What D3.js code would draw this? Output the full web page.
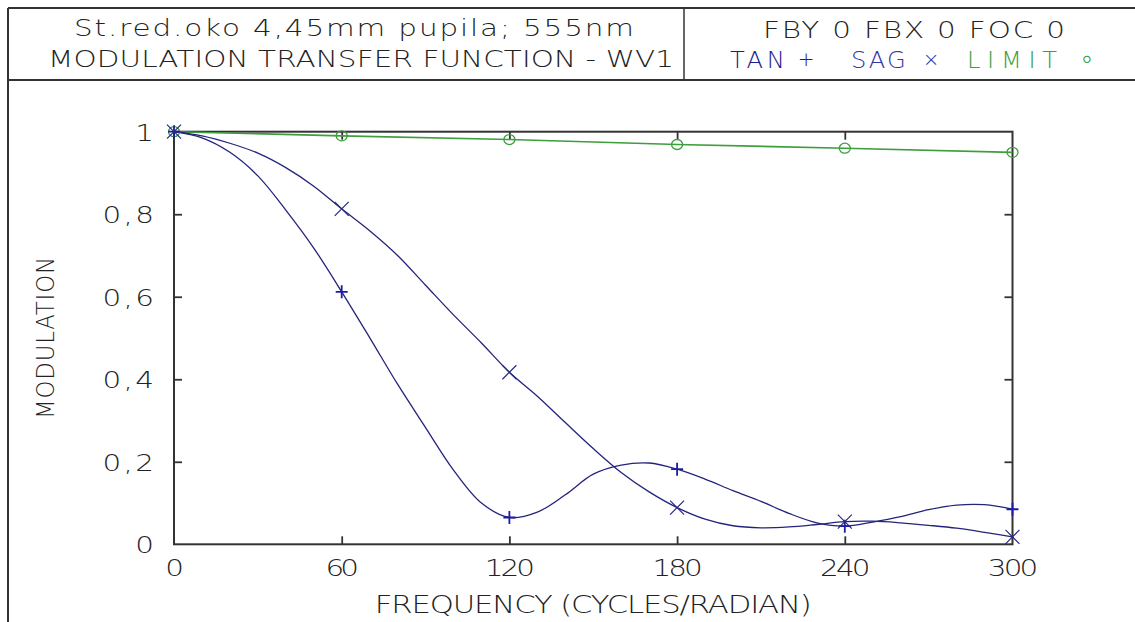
<!DOCTYPE html>
<html>
<head>
<meta charset="utf-8">
<script src="https://cdn.jsdelivr.net/npm/d3@7/dist/d3.min.js"></script>
<style>
  html, body { margin: 0; padding: 0; background: #ffffff; }
  svg { display: block; }
  text { font-family: "DejaVu Sans", "Liberation Sans", sans-serif; font-weight: 200; }
</style>
</head>
<body>
<svg id="chart" width="1135" height="622"></svg>
<script>
// ---------------- data ----------------
const freq = [0,10,20,30,40,50,60,70,80,90,100,110,120,130,140,150,160,170,180,190,200,210,220,230,240,250,260,270,280,290,300];
const tanValues = [1.0,0.985,0.950,0.893,0.810,0.718,0.612,0.501,0.388,0.283,0.180,0.100,0.065,0.078,0.120,0.170,0.192,0.197,0.182,0.158,0.130,0.104,0.075,0.052,0.044,0.054,0.067,0.084,0.095,0.096,0.085];
const sagValues = [1.0,0.990,0.972,0.948,0.913,0.868,0.813,0.760,0.700,0.628,0.556,0.488,0.417,0.359,0.295,0.232,0.174,0.127,0.089,0.061,0.045,0.040,0.042,0.048,0.055,0.056,0.052,0.046,0.039,0.029,0.018];
const limitFreq = [0,60,120,180,240,300];
const limitValues = [1.0,0.990,0.981,0.969,0.960,0.950];
const markerFreq = [0,60,120,180,240,300];
const xTicks = [0,60,120,180,240,300];
const yTicks = [0,0.2,0.4,0.6,0.8,1];
const titleLine1 = "St.red.oko 4,45mm pupila; 555nm";
const titleLine2 = "MODULATION TRANSFER FUNCTION - WV1";
const infoLine = "FBY 0 FBX 0 FOC 0";
const legendItems = [
  {name: "TAN", symbol: "+", color: "#1c1c8c"},
  {name: "SAG", symbol: "×", color: "#3434a4"},
  {name: "LIMIT", symbol: "∘", color: "#3c9e3c"}
];
const xTitle = "FREQUENCY (CYCLES/RADIAN)";
const yTitle = "MODULATION";

// ---------------- drawing ----------------
const svg = d3.select("#chart");
const W = 1135, H = 622;
const frameColor = "#333333";
const curveColor = "#24247c";
const tanColor = "#1c1ca8";
const sagColor = "#2a2a80";
const limitColor = "#3c9e3c";
const SX = 1.28; // horizontal widening of glyphs (stroke-font look)

const x = d3.scaleLinear().domain([0, 300]).range([174, 1012.5]);
const y = d3.scaleLinear().domain([0, 1]).range([544.3, 131.7]);

function txt(s, px, py, opt) {
  const sx = opt.sx || SX;
  const t = svg.append("text")
    .attr("x", 0).attr("y", 0)
    .attr("font-size", opt.size || 23)
    .attr("fill", opt.fill || "#222")
    .attr("text-anchor", opt.anchor || "start")
    .attr("transform", `translate(${px},${py})` + (opt.rotate ? ` rotate(${opt.rotate})` : "") + ` scale(${sx},1)`)
    .text(s);
  if (opt.len) t.attr("textLength", opt.len / sx).attr("lengthAdjust", "spacing");
  return t;
}

// outer frame / header box
svg.append("line").attr("x1", 8).attr("x2", W).attr("y1", 8).attr("y2", 8).attr("stroke", frameColor).attr("stroke-width", 2);
svg.append("line").attr("x1", 8).attr("x2", W).attr("y1", 80).attr("y2", 80).attr("stroke", frameColor).attr("stroke-width", 2);
svg.append("line").attr("x1", 8).attr("x2", 8).attr("y1", 8).attr("y2", H).attr("stroke", frameColor).attr("stroke-width", 2);
svg.append("line").attr("x1", 684).attr("x2", 684).attr("y1", 8).attr("y2", 80).attr("stroke", frameColor).attr("stroke-width", 1.5);

// header texts
txt(titleLine1, 74, 36, {size: 23, len: 560});
txt(titleLine2, 48, 67, {size: 23, len: 626});
txt(infoLine, 763, 38, {size: 23, len: 302});
const legPos = [
  {nx: 730, sx: 806},
  {nx: 851, sx: 931},
  {nx: 967, sx: 1087}
];
legendItems.forEach((d, i) => {
  txt(d.name, legPos[i].nx, 68, {size: 23, fill: d.color, sx: 1.05, len: d.name.length * 17.6 + 2});
  txt(d.symbol, legPos[i].sx, i === 2 ? 68 : 66, {size: i === 2 ? 28 : 20, anchor: "middle", fill: d.color, sx: 1});
});

// plot frame
const g = svg.append("g");
g.append("rect")
  .attr("x", x(0)).attr("y", y(1))
  .attr("width", x(300) - x(0)).attr("height", y(0) - y(1))
  .attr("fill", "none").attr("stroke", frameColor).attr("stroke-width", 2);

// axes (ticks pointing inward)
const fmt = d3.formatLocale({decimal: ",", thousands: ".", grouping: [3], currency: ["", ""]}).format(".1~f");
const tickLen = 8;

const axB = g.append("g").attr("transform", `translate(0,${y(0)})`)
  .call(d3.axisBottom(x).tickValues(xTicks).tickSizeInner(-tickLen).tickSizeOuter(0).tickFormat(d => d));
const axT = g.append("g").attr("transform", `translate(0,${y(1)})`)
  .call(d3.axisTop(x).tickValues(xTicks.slice(1, -1)).tickSizeInner(-tickLen).tickSizeOuter(0).tickFormat(""));
const axL = g.append("g").attr("transform", `translate(${x(0)},0)`)
  .call(d3.axisLeft(y).tickValues(yTicks).tickSizeInner(-tickLen).tickSizeOuter(0).tickFormat(fmt));
const axR = g.append("g").attr("transform", `translate(${x(300)},0)`)
  .call(d3.axisRight(y).tickValues(yTicks.slice(1, -1)).tickSizeInner(-tickLen).tickSizeOuter(0).tickFormat(""));

[axB, axT, axL, axR].forEach(a => {
  a.attr("font-family", null).attr("font-size", null);
  a.select(".domain").remove();
  a.selectAll(".tick line").attr("stroke", frameColor).attr("stroke-width", 1.8);
});
axB.selectAll(".tick").filter(d => d === 0 || d === 300).select("line").remove();
axL.selectAll(".tick").filter(d => d === 0 || d === 1).select("line").remove();

axB.selectAll(".tick text")
  .attr("x", 0).attr("y", 32).attr("dy", null)
  .attr("font-size", 23).attr("fill", "#222")
  .attr("transform", `scale(${SX},1)`)
  .each(function(d) { d3.select(this).attr("textLength", String(d).length * 16.8 / SX).attr("lengthAdjust", "spacing"); });
axL.selectAll(".tick text")
  .attr("x", -20 / SX).attr("dy", null).attr("y", 8.5)
  .attr("font-size", 23).attr("fill", "#222")
  .attr("transform", `scale(${SX},1)`)
  .each(function(d) { const s = fmt(d); d3.select(this).attr("textLength", s.length * 17.2 / SX).attr("lengthAdjust", "spacing"); });

// axis titles
txt(xTitle, (x(0) + x(300)) / 2, 613, {size: 24, anchor: "middle", len: 437});
txt(yTitle, 54, (y(0) + y(1)) / 2, {size: 24, anchor: "middle", len: 162, rotate: -90, sx: 0.95});

// curves
const line = d3.line().x(d => x(d[0])).y(d => y(d[1])).curve(d3.curveCatmullRom.alpha(0.5));
const tanData = freq.map((f, i) => [f, tanValues[i]]);
const sagData = freq.map((f, i) => [f, sagValues[i]]);
const limData = limitFreq.map((f, i) => [f, limitValues[i]]);

g.append("path").datum(limData)
  .attr("d", d3.line().x(d => x(d[0])).y(d => y(d[1])))
  .attr("fill", "none").attr("stroke", limitColor).attr("stroke-width", 1.6);
g.append("path").datum(sagData).attr("d", line)
  .attr("fill", "none").attr("stroke", curveColor).attr("stroke-width", 1.3);
g.append("path").datum(tanData).attr("d", line)
  .attr("fill", "none").attr("stroke", curveColor).attr("stroke-width", 1.3);

// markers
limData.forEach(d => {
  g.append("ellipse").attr("cx", x(d[0])).attr("cy", y(d[1])).attr("rx", 5.5).attr("ry", 5)
    .attr("fill", "none").attr("stroke", limitColor).attr("stroke-width", 1.3);
});
markerFreq.forEach(f => {
  const i = freq.indexOf(f);
  const tx = x(f), ty = y(tanValues[i]);
  g.append("path").attr("d", `M${tx - 6},${ty}H${tx + 6}M${tx},${ty - 6.5}V${ty + 6.5}`)
    .attr("stroke", tanColor).attr("stroke-width", 1.8).attr("fill", "none");
  const sx = x(f), sy = y(sagValues[i]);
  g.append("path").attr("d", `M${sx - 7},${sy - 7}L${sx + 7},${sy + 7}M${sx - 7},${sy + 7}L${sx + 7},${sy - 7}`)
    .attr("stroke", sagColor).attr("stroke-width", 1.2).attr("fill", "none");
});
</script>
</body>
</html>
